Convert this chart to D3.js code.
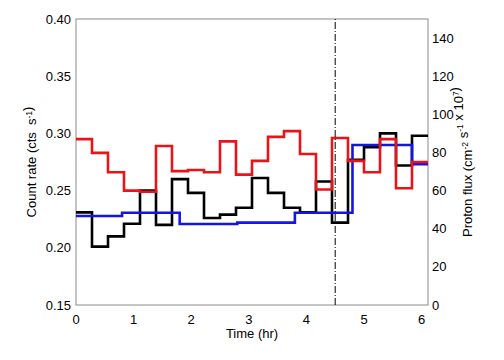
<!DOCTYPE html>
<html>
<head>
<meta charset="utf-8">
<script src="https://cdn.jsdelivr.net/npm/d3@7"></script>
<style>
  body { margin: 0; background: #fff; }
  svg { display: block; font-family: "Liberation Sans", Arial, sans-serif; }
</style>
</head>
<body>
<svg id="chart" width="504" height="360"></svg>
<script>
// 1000 s bins, 22 of them
const bin_hours = 1000 / 3600;
const n_bins = 22;

const black_rate = [
  0.231, 0.201, 0.210, 0.221, 0.250, 0.220, 0.260, 0.248, 0.226, 0.229, 0.235,
  0.261, 0.248, 0.235, 0.231, 0.258, 0.222, 0.277, 0.288, 0.300, 0.272, 0.298,
];
const red_rate = [
  0.295, 0.283, 0.266, 0.250, 0.249, 0.289, 0.267, 0.268, 0.266, 0.293, 0.264,
  0.276, 0.297, 0.302, 0.282, 0.251, 0.296, 0.276, 0.266, 0.295, 0.252, 0.275,
];

// proton flux, coarser bins (hours)
const blue_edges = [0, 0.8, 1.8, 2.8, 3.8, 4.8, 5.833, 6.111];
const blue_flux = [46.7, 48.4, 42.5, 43.2, 48.4, 83.9, 73.9];

const x_ticks = [0, 1, 2, 3, 4, 5, 6];
const left_ticks = [0.15, 0.2, 0.25, 0.3, 0.35, 0.4];
const right_ticks = [0, 20, 40, 60, 80, 100, 120, 140];
const marker_hour = 4.5;

const svg = d3.select("#chart");
const margin = { top: 19, right: 76, bottom: 55, left: 76 };
const width = 504;
const height = 360;
const axis_color = "#8a8a8a";
const major_len = 6;
const minor_len = 3;

const x = d3
  .scaleLinear()
  .domain([0, n_bins * bin_hours])
  .range([margin.left, width - margin.right]);
const y_left = d3
  .scaleLinear()
  .domain([0.15, 0.4])
  .range([height - margin.bottom, margin.top]);
const y_right = d3
  .scaleLinear()
  .domain([0, 150])
  .range([height - margin.bottom, margin.top]);

function step_points(edges, values) {
  const pts = values.map((v, i) => [edges[i], v]);
  pts.push([edges[edges.length - 1], values[values.length - 1]]);
  return pts;
}

function draw_ticks(g, values, make, len) {
  g.selectAll(null)
    .data(values)
    .join("line")
    .attr("stroke", axis_color)
    .attr("stroke-width", 1)
    .each(function (d) {
      d3.select(this).attr(make(d, len));
    });
}

const x0 = x.range()[0];
const x1 = x.range()[1];
const y0 = y_left.range()[0];
const y1 = y_left.range()[1];

// ticks
const tick_g = svg.append("g");
const x_minor = d3.range(0, 61).map((d) => d / 10).filter((d) => d % 1 !== 0);
const l_minor = d3.range(15, 41).map((d) => d / 100);
const r_minor = d3.range(0, 151, 5);

[
  [x_ticks, major_len],
  [x_minor, minor_len],
].forEach(([vals, len]) => {
  draw_ticks(tick_g, vals, (d, l) => ({ x1: x(d), x2: x(d), y1: y0, y2: y0 - l }), len);
  draw_ticks(tick_g, vals, (d, l) => ({ x1: x(d), x2: x(d), y1: y1, y2: y1 + l }), len);
});
draw_ticks(tick_g, l_minor, (d, l) => ({ x1: x0, x2: x0 + l, y1: y_left(d), y2: y_left(d) }), minor_len);
draw_ticks(tick_g, left_ticks, (d, l) => ({ x1: x0, x2: x0 + l, y1: y_left(d), y2: y_left(d) }), major_len);
draw_ticks(tick_g, r_minor, (d, l) => ({ x1: x1, x2: x1 - l, y1: y_right(d), y2: y_right(d) }), minor_len);
draw_ticks(tick_g, right_ticks, (d, l) => ({ x1: x1, x2: x1 - l, y1: y_right(d), y2: y_right(d) }), major_len);

// frame
svg
  .append("rect")
  .attr("x", x0)
  .attr("y", y1)
  .attr("width", x1 - x0)
  .attr("height", y0 - y1)
  .attr("fill", "none")
  .attr("stroke", axis_color)
  .attr("stroke-width", 1);

// tick labels
const label_g = svg.append("g").attr("font-size", 13).attr("fill", "#000");
label_g
  .selectAll("text.xl")
  .data(x_ticks)
  .join("text")
  .attr("x", (d) => x(d))
  .attr("y", y0 + 19)
  .attr("text-anchor", "middle")
  .text((d) => d);
label_g
  .selectAll("text.ll")
  .data(left_ticks)
  .join("text")
  .attr("x", x0 - 5)
  .attr("y", (d) => y_left(d) + 4.5)
  .attr("text-anchor", "end")
  .text((d) => d3.format(".2f")(d));
label_g
  .selectAll("text.rl")
  .data(right_ticks)
  .join("text")
  .attr("x", x1 + 4)
  .attr("y", (d) => y_right(d) + 4.5)
  .attr("text-anchor", "start")
  .text((d) => d);

// axis titles
svg
  .append("text")
  .attr("x", (x0 + x1) / 2)
  .attr("y", y0 + 33)
  .attr("text-anchor", "middle")
  .attr("font-size", 13)
  .text("Time (hr)");

function add_sup(t, s) {
  t.append("tspan").attr("font-size", 8.5).attr("dy", -4.5).text(s);
  t.append("tspan").attr("dy", 4.5).text("");
}

const left_title = svg
  .append("text")
  .attr("transform", `translate(36,${(y0 + y1) / 2}) rotate(-90)`)
  .attr("text-anchor", "middle")
  .attr("font-size", 13);
left_title.append("tspan").text("Count rate (cts  s").attr("xml:space", "preserve");
add_sup(left_title, "-1");
left_title.append("tspan").text(")");

const right_title = svg
  .append("text")
  .attr("transform", `translate(472,${(y0 + y1) / 2}) rotate(-90)`)
  .attr("text-anchor", "middle")
  .attr("font-size", 13);
right_title.append("tspan").text("Proton flux (cm");
add_sup(right_title, "-2");
right_title.append("tspan").text(" s");
add_sup(right_title, "-1");
right_title.append("tspan").text(" x 10");
add_sup(right_title, "7");
right_title.append("tspan").text(")");

// series
const edges = d3.range(n_bins + 1).map((i) => i * bin_hours);
const line_left = d3
  .line()
  .x((d) => x(d[0]))
  .y((d) => y_left(d[1]))
  .curve(d3.curveStepAfter);
const line_right = d3
  .line()
  .x((d) => x(d[0]))
  .y((d) => y_right(d[1]))
  .curve(d3.curveStepAfter);

svg
  .append("path")
  .attr("d", line_left(step_points(edges, black_rate)))
  .attr("fill", "none")
  .attr("stroke", "#000")
  .attr("stroke-width", 2.6);
svg
  .append("path")
  .attr("d", line_right(step_points(blue_edges, blue_flux)))
  .attr("fill", "none")
  .attr("stroke", "#1414e6")
  .attr("stroke-width", 2.6);
svg
  .append("path")
  .attr("d", line_left(step_points(edges, red_rate)))
  .attr("fill", "none")
  .attr("stroke", "#e8141a")
  .attr("stroke-width", 2.6);

// marker line
svg
  .append("line")
  .attr("x1", x(marker_hour))
  .attr("x2", x(marker_hour))
  .attr("y1", y0)
  .attr("y2", y1)
  .attr("stroke", "#000")
  .attr("stroke-width", 1)
  .attr("stroke-dasharray", "7,2,1,2");
</script>
</body>
</html>
